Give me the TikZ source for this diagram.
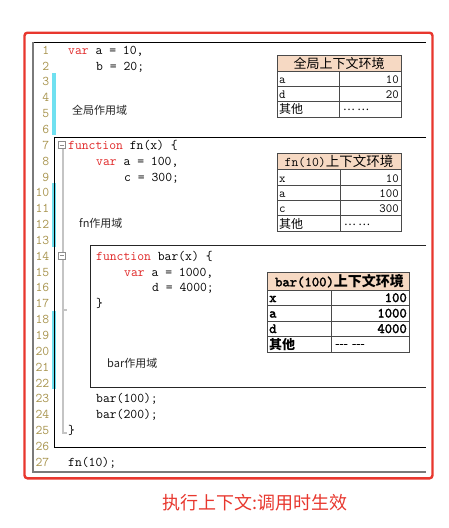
\documentclass[tikz,border=0pt]{standalone}
\usepackage{fontspec}
\newfontfamily\cjk{Noto Sans CJK SC}
\newfontfamily\bmono{lmmono10-regular.otf}[FakeBold=2.2]
\definecolor{frame}{HTML}{E8372E}
\definecolor{kw}{HTML}{E02626}
\definecolor{numc}{HTML}{A8944E}
\definecolor{cyanbar}{HTML}{6FE0F0}
\definecolor{hdr}{HTML}{F6D9C3}
\definecolor{tblc}{HTML}{4A4A4A}
\definecolor{foldc}{HTML}{C4C4C4}
\definecolor{foldbox}{HTML}{8C8C8C}
\definecolor{edgec}{HTML}{7A7A7A}
\definecolor{lbl}{HTML}{262626}
\begin{document}
\begin{tikzpicture}[x=1pt,y=-1pt,
  code/.style={anchor=base west,inner sep=0,font=\fontsize{13.3}{15}\ttfamily},
  lnum/.style={anchor=base east,inner sep=0,font=\fontsize{13.3}{15}\ttfamily,text=numc},
  scopelbl/.style={anchor=base west,inner sep=0,font=\cjk\fontsize{11}{11}\selectfont,text=lbl},
  tbl/.style={draw=tblc,line width=0.9},
  thdr/.style={anchor=base,inner sep=0},
  tlab/.style={anchor=base west,inner sep=0,font=\fontsize{12.5}{12.5}\ttfamily},
  tval/.style={anchor=base east,inner sep=0,font=\fontsize{12.5}{12.5}\ttfamily},
  tlabb/.style={anchor=base west,inner sep=0,font=\fontsize{14}{14}\bmono},
  tvalb/.style={anchor=base east,inner sep=0,font=\fontsize{14}{14}\bmono},
  foldmark/.style={draw=foldbox,fill=white,minimum size=7pt,inner sep=0,line width=0.7}
]
\useasboundingbox (0,0) rectangle (449,528);
\fill[white] (0,0) rectangle (449,528);

% red outer frame
\draw[draw=frame,line width=2.4,rounded corners=3] (24.5,32.7) rectangle (432.5,478.3);

% editor frame
\draw[black,line width=0.9] (33,42) -- (426,42);
\draw[edgec,line width=1.4] (33,42) -- (33,472) -- (426,472);

% cyan change bars
\fill[cyanbar] (52,73) rectangle (56,135);
\fill[cyanbar] (52,183) rectangle (56,247);
\fill[cyanbar] (52,311) rectangle (56,389);

% fold guide
\draw[foldc,line width=1.3] (63,149) -- (63,433) -- (66.5,433);
\draw[foldc,line width=1.3] (63,310) -- (67,310);

% scope boxes
\draw[black,line width=1] (426,137) -- (54.3,137) -- (54.3,447) -- (426,447);
\draw[black!85,line width=1] (426,245) -- (90,245) -- (90,387) -- (426,387);

% fold markers
\node[foldmark] (f7) at (62,145) {};
\draw[foldbox,line width=0.7] ([xshift=1.6pt]f7.west) -- ([xshift=-1.6pt]f7.east);
\node[foldmark] (f14) at (62,255.5) {};
\draw[foldbox,line width=0.7] ([xshift=1.6pt]f14.west) -- ([xshift=-1.6pt]f14.east);

% line numbers
\foreach \n in {1,...,27}
  \node[lnum] (ln\n) at (49.5,{54.2+(\n-1)*15.85}) {\n};

% code
\node[code] (c1)  at (68,54.2)   {\textcolor{kw}{var} a = 10,};
\node[code] (c2)  at (96,70.05)  {b = 20;};
\node[code] (c7)  at (68,149.3)  {\textcolor{kw}{function} fn(x) \{};
\node[code] (c8)  at (96,165.15) {\textcolor{kw}{var} a = 100,};
\node[code] (c9)  at (124,181.0) {c = 300;};
\node[code] (c14) at (96,260.25) {\textcolor{kw}{function} bar(x) \{};
\node[code] (c15) at (124,276.1) {\textcolor{kw}{var} a = 1000,};
\node[code] (c16) at (152,291.95){d = 4000;};
\node[code] (c17) at (96,307.8)  {\}};
\node[code] (c23) at (96,402.9)  {bar(100);};
\node[code] (c24) at (96,418.75) {bar(200);};
\node[code] (c25) at (68,434.6)  {\}};
\node[code] (c27) at (68,466.3)  {fn(10);};

% scope labels
\node[scopelbl] (sglobal) at (72,114.2) {全局作用域};
\node[scopelbl] (sfn) at (79,227.2) {fn作用域};
\node[scopelbl] (sbar) at (107,367.2) {bar作用域};

% table 1: global context
\fill[hdr] (277,55) rectangle (401,71.5);
\draw[tbl] (277,55) rectangle (401,117);
\draw[tbl] (277,71.5) -- (401,71.5) (277,86.5) -- (401,86.5) (277,101.5) -- (401,101.5) (339,71.5) -- (339,117);
\node[thdr,font=\cjk\fontsize{13}{13}\selectfont] (t1h) at (339,68.2) {全局上下文环境};
\node[tlab] (t1a) at (279,83.2) {a};
\node[tval] (t1av) at (399,83.2) {10};
\node[tlab] (t1d) at (279,98.2) {d};
\node[tval] (t1dv) at (399,98.2) {20};
\node[tlab,font=\cjk\fontsize{12}{12}\selectfont] (t1o) at (279,113.8) {其他};
\node[tlab,font=\cjk\fontsize{11}{11}\selectfont] (t1ov) at (343,110.6) {… …};

% table 2: fn(10) context
\fill[hdr] (277,153) rectangle (401,169.7);
\draw[tbl] (277,153) rectangle (401,231.5);
\draw[tbl] (277,169.7) -- (401,169.7) (277,185.7) -- (401,185.7) (277,200.7) -- (401,200.7) (277,215.7) -- (401,215.7) (340,169.7) -- (340,231.5);
\node[thdr] (t2h) at (339,166.3) {{\fontsize{13.3}{13}\ttfamily fn(10)}{\cjk\fontsize{13.5}{13}\selectfont 上下文环境}};
\node[tlab] (t2x) at (279,182) {x};
\node[tval] (t2xv) at (399,182) {10};
\node[tlab] (t2a) at (279,197.4) {a};
\node[tval] (t2av) at (399,197.4) {100};
\node[tlab] (t2c) at (279,212.4) {c};
\node[tval] (t2cv) at (399,212.4) {300};
\node[tlab,font=\cjk\fontsize{12}{12}\selectfont] (t2o) at (279,228.2) {其他};
\node[tlab,font=\cjk\fontsize{11}{11}\selectfont] (t2ov) at (344,225) {… …};

% table 3: bar(100) context
\fill[hdr] (267,272) rectangle (409,290);
\draw[tbl] (267,272) rectangle (409,352);
\draw[tbl] (267,290) -- (409,290) (267,305) -- (409,305) (267,321) -- (409,321) (267,336) -- (409,336) (331,290) -- (331,352);
\node[thdr] (t3h) at (339.5,286.3) {{\fontsize{14}{14}\bmono bar(100)}{\cjk\bfseries\fontsize{14}{14}\selectfont 上下文环境}};
\node[tlabb] (t3x) at (269,302) {x};
\node[tvalb] (t3xv) at (407,302) {100};
\node[tlabb] (t3a) at (269,317.5) {a};
\node[tvalb] (t3av) at (407,317.5) {1000};
\node[tlabb] (t3d) at (269,333) {d};
\node[tvalb] (t3dv) at (407,333) {4000};
\node[tlab,font=\cjk\bfseries\fontsize{13}{13}\selectfont] (t3o) at (269,349) {其他};
\node[tlab,font=\fontsize{8}{8}\bmono] (t3ov) at (335,347) {--- ---};

% caption
\node[inner sep=0,text=frame,font=\cjk\fontsize{18}{18}\selectfont] (cap) at (255,503) {执行上下文:调用时生效};
\end{tikzpicture}
\end{document}
